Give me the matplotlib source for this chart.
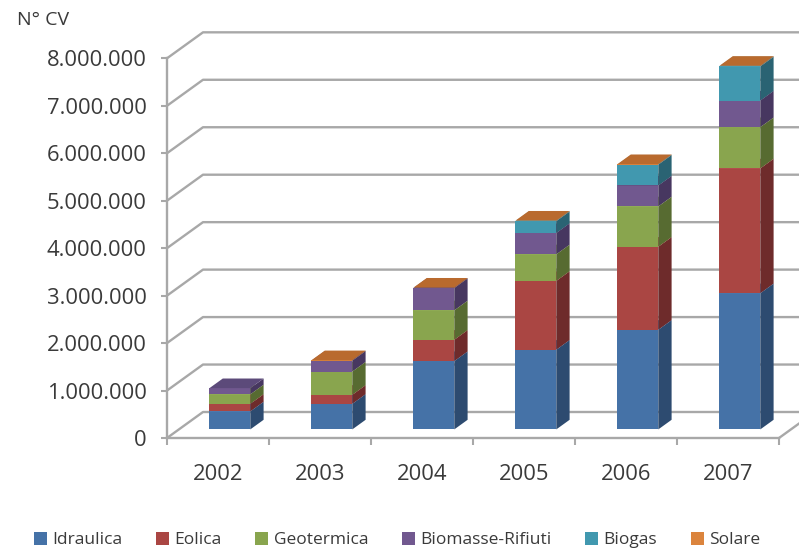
import matplotlib
matplotlib.use("Agg")
import matplotlib.pyplot as plt
from matplotlib.patches import Polygon, Patch
from matplotlib.ticker import FuncFormatter, FixedLocator

# --- data ---
years = ["2002", "2003", "2004", "2005", "2006", "2007"]
series_names = ["Idraulica", "Eolica", "Geotermica", "Biomasse-Rifiuti", "Biogas", "Solare"]
idraulica = [380000, 540000, 1440000, 1680000, 2100000, 2870000]
eolica = [160000, 190000, 450000, 1450000, 1750000, 2630000]
geotermica = [200000, 490000, 620000, 560000, 850000, 870000]
biomasse = [130000, 230000, 470000, 450000, 440000, 560000]
biogas = [0, 0, 0, 250000, 440000, 720000]
solare = [0, 8000, 8000, 10000, 10000, 12000]
y_ticks = [0, 1000000, 2000000, 3000000, 4000000, 5000000, 6000000, 7000000, 8000000]

# --- styles ---
front_colors = ["#4572A7", "#AA4643", "#89A54E", "#71588F", "#4198AF", "#DB843D"]
side_colors = ["#2D4B70", "#6E2B2B", "#576B31", "#473760", "#2A6373", "#8E5428"]
top_colors = ["#5B84B8", "#BE5E5B", "#9DB765", "#5C4A7A", "#5AAAC0", "#B96A2E"]
grid_color = "#A8A8A8"
text_color = "#3A3A3A"
font = "Open Sans"

# pixel layout of the Excel plot area
px_per_cat = 102.0
px_per_unit = 47.46 / 1e6
x0_px, y0_px = 167.0, 438.0
W, H = 799, 550
depth_dx = 36.0 / px_per_cat
depth_dy = 26.0 / px_per_unit
bar_w = 0.40
bar_d0 = 0.33
bar_depth = 0.37


def main() -> None:
    fig = plt.figure(figsize=(W / 100, H / 100), dpi=100)
    ax = fig.add_axes([0, 0, 1, 1])
    xmin = -0.5 - x0_px / px_per_cat
    xmax = -0.5 + (W - x0_px) / px_per_cat
    ymin = (y0_px - H) / px_per_unit
    ymax = y0_px / px_per_unit
    ax.set_xlim(xmin, xmax)
    ax.set_ylim(ymin, ymax)

    n = len(years)
    # walls: slanted side gridlines + back wall horizontals
    for v in y_ticks:
        ax.plot([-0.5, -0.5 + depth_dx, xmax], [v, v + depth_dy, v + depth_dy],
                color=grid_color, lw=1.7, zorder=1, solid_capstyle="butt")
    ax.plot([n - 0.5, n - 0.5 + depth_dx], [0, depth_dy], color=grid_color, lw=1.7, zorder=1)

    # stacked pseudo-3D columns
    stacks = [idraulica, eolica, geotermica, biomasse, biogas, solare]
    xs = [i + bar_d0 * depth_dx for i in range(n)]
    ddx = bar_depth * depth_dx
    ddy = bar_depth * depth_dy
    bottoms = [bar_d0 * depth_dy] * n
    for k, vals in enumerate(stacks):
        ax.bar(xs, vals, width=bar_w, bottom=bottoms, color=front_colors[k],
               linewidth=0, zorder=3)
        for i in range(n):
            if vals[i] <= 0:
                continue
            xl = xs[i] - bar_w / 2
            xr = xs[i] + bar_w / 2
            yb = bottoms[i]
            yt = bottoms[i] + vals[i]
            side = Polygon([(xr, yb), (xr + ddx, yb + ddy), (xr + ddx, yt + ddy), (xr, yt)],
                           closed=True, facecolor=side_colors[k], edgecolor="none", zorder=3)
            top = Polygon([(xl, yt), (xr, yt), (xr + ddx, yt + ddy), (xl + ddx, yt + ddy)],
                          closed=True, facecolor=top_colors[k], edgecolor="none", zorder=3)
            ax.add_patch(side)
            ax.add_patch(top)
        bottoms = [b + v for b, v in zip(bottoms, vals)]

    # axes
    for s in ("top", "right"):
        ax.spines[s].set_visible(False)
    ax.spines["left"].set_position(("data", -0.5))
    ax.spines["left"].set_bounds(0, y_ticks[-1])
    ax.spines["bottom"].set_position(("data", 0))
    ax.spines["bottom"].set_bounds(-0.5, n - 0.5)
    for s in ("left", "bottom"):
        ax.spines[s].set_color(grid_color)
        ax.spines[s].set_linewidth(1.7)
        ax.spines[s].set_zorder(2)

    ax.yaxis.set_major_locator(FixedLocator(y_ticks))
    ax.yaxis.set_major_formatter(FuncFormatter(lambda v, p: f"{int(v):,}".replace(",", ".")))
    ax.tick_params(axis="y", direction="out", length=4.5, width=1.5, color=grid_color,
                   pad=10, labelsize=15.8, labelcolor=text_color)
    ax.set_xticks(range(n))
    ax.set_xticklabels(years)
    ax.set_xticks([i - 0.5 for i in range(n + 1)], minor=True)
    ax.tick_params(axis="x", which="major", length=0, pad=19, labelsize=15.8, labelcolor=text_color)
    ax.tick_params(axis="x", which="minor", direction="out", length=5, width=1.5, color=grid_color)
    for lab in ax.get_xticklabels() + ax.get_yticklabels():
        lab.set_family(font)

    fig.text(17 / W, 1 - 20 / H, "N° CV", fontsize=14, family=font, color=text_color,
             va="center", ha="left")

    handles = [Patch(facecolor=c, edgecolor="none") for c in front_colors]
    fig.legend(handles, series_names, loc="center", bbox_to_anchor=(0.497, 1 - 540 / H),
               ncol=6, frameon=False, handlelength=0.75, handleheight=0.75,
               handletextpad=0.3, columnspacing=1.95,
               prop={"family": font, "size": 12.5})
    for t in fig.legends[0].get_texts():
        t.set_color(text_color)

    fig.savefig("out.png", dpi=100)
    plt.close(fig)


if __name__ == "__main__":
    main()
